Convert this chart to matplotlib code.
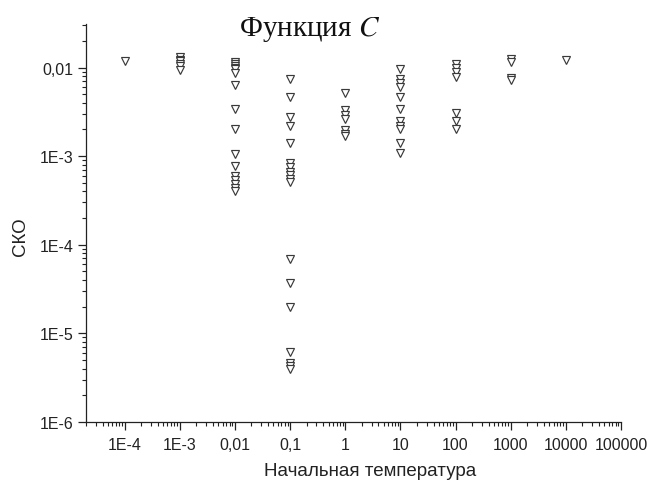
import matplotlib
matplotlib.use("Agg")
import matplotlib.pyplot as plt
from matplotlib.ticker import FixedLocator, FixedFormatter, LogLocator, NullFormatter

# Initial temperature values (one column of runs per temperature)
temperatures = [1e-4, 1e-3, 1e-2, 1e-1, 1, 10, 100, 1000, 10000]

# RMS error (СКО) of every run, grouped by initial temperature
rmse_t1e4 = [0.0120]
rmse_t1e3 = [0.0130, 0.0123, 0.0117, 0.0111, 0.0105, 0.0095]
rmse_t1e2 = [0.0115, 0.0110, 0.0105, 0.0100, 0.0096, 0.0087, 0.0064, 0.0034,
             0.0020, 0.00107, 0.00077, 0.00060, 0.00054, 0.00049, 0.00044, 0.00040]
rmse_t1e1 = [0.0075, 0.0047, 0.0028, 0.0022, 0.00142, 0.00083, 0.00075, 0.00067,
             0.00061, 0.00055, 0.00051, 6.9e-5, 3.75e-5, 2.0e-5, 6.1e-6, 4.6e-6,
             4.3e-6, 3.95e-6]
rmse_t1 = [0.0052, 0.0033, 0.0029, 0.0026, 0.00195, 0.00180, 0.00167]
rmse_t10 = [0.0097, 0.0075, 0.0067, 0.0061, 0.0046, 0.0034, 0.00247, 0.0022,
            0.0020, 0.00139, 0.00109]
rmse_t100 = [0.0111, 0.0100, 0.0090, 0.0079, 0.0031, 0.00248, 0.0020]
rmse_t1000 = [0.0126, 0.0114, 0.0077, 0.0072]
rmse_t10000 = [0.0121]

groups = [rmse_t1e4, rmse_t1e3, rmse_t1e2, rmse_t1e1, rmse_t1,
          rmse_t10, rmse_t100, rmse_t1000, rmse_t10000]

x_ticks = [1e-4, 1e-3, 1e-2, 1e-1, 1, 10, 100, 1000, 10000, 100000]
x_tick_labels = ["1E-4", "1E-3", "0,01", "0,1", "1", "10", "100", "1000",
                 "10000", "100000"]
y_ticks = [1e-6, 1e-5, 1e-4, 1e-3, 1e-2]
y_tick_labels = ["1E-6", "1E-5", "1E-4", "1E-3", "0,01"]

plt.rcParams["font.family"] = ["Liberation Sans", "DejaVu Sans"]
plt.rcParams["mathtext.fontset"] = "stix"

fig = plt.figure(figsize=(6.49, 4.89), dpi=100)
ax = fig.add_axes([86 / 649, 1 - 423 / 489, (621 - 86) / 649, (423 - 25) / 489])

for t, vals in zip(temperatures, groups):
    ax.plot([t] * len(vals), vals, linestyle="none", marker="v",
            markersize=5.4, markerfacecolor="white", markeredgecolor="#3a3a3a",
            markeredgewidth=0.85)

ax.set_xscale("log")
ax.set_yscale("log")
ax.set_xlim(2e-5, 1e5)
ax.set_ylim(1e-6, 0.031)

ax.xaxis.set_major_locator(FixedLocator(x_ticks))
ax.xaxis.set_major_formatter(FixedFormatter(x_tick_labels))
ax.yaxis.set_major_locator(FixedLocator(y_ticks))
ax.yaxis.set_major_formatter(FixedFormatter(y_tick_labels))
for axis in (ax.xaxis, ax.yaxis):
    axis.set_minor_locator(LogLocator(base=10, subs=range(2, 10), numticks=20))
    axis.set_minor_formatter(NullFormatter())

ax.tick_params(which="major", direction="out", length=6, width=0.9,
               labelsize=11.5, color="#222222", labelcolor="#222222", pad=3)
ax.tick_params(axis="x", which="major", pad=5)
ax.tick_params(which="minor", direction="out", length=3, width=0.8,
               color="#222222")

for side in ("top", "right"):
    ax.spines[side].set_visible(False)
for side in ("left", "bottom"):
    ax.spines[side].set_linewidth(0.9)
    ax.spines[side].set_color("#222222")

fig.text(310 / 649, 1 - 30 / 489, "Функция $C$", family="Liberation Serif",
         fontsize=21, ha="center", va="center", color="#111111")
fig.text(370 / 649, 1 - 472 / 489, "Начальная температура", fontsize=13.5,
         ha="center", va="center", color="#222222")
fig.text(20 / 649, 1 - 237 / 489, "СКО", fontsize=13.5, rotation=90,
         ha="center", va="center", color="#222222")

fig.savefig("out.png", dpi=100, facecolor="white")
